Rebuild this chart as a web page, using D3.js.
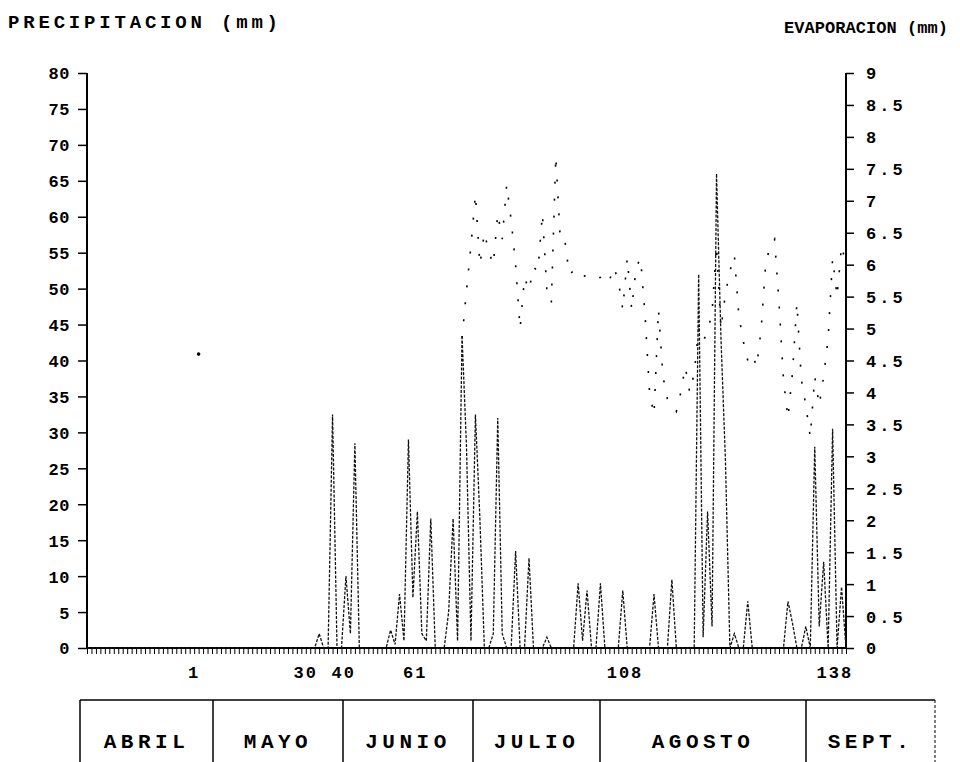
<!DOCTYPE html>
<html>
<head>
<meta charset="utf-8">
<script src="https://cdn.jsdelivr.net/npm/d3@7"></script>
<style>
  html, body { margin: 0; padding: 0; background: #fff; }
  svg { display: block; }
  text { font-family: "Liberation Mono", "DejaVu Sans Mono", monospace; font-weight: bold; fill: #000; }
</style>
</head>
<body>
<svg id="chart" width="960" height="762"></svg>
<script>
// ---------------- DATA ----------------
// daily precipitation (mm), day index 0..170
const precipitation = [
  0,0,0,0,0,0,0,0,0,0, 0,0,0,0,0,0,0,0,0,0,
  0,0,0,0,0,0,0,0,0,0, 0,0,0,0,0,0,0,0,0,0,
  0,0,0,0,0,0,0,0,0,0, 0,0,2,0,0,32.5,0,0,10,2,
  28.5,0,0,0,0,0,0,0,2.5,0.5, 7.5,1,29,7,19,2,1,18,0,0,
  0,5,18,1,43.5,28,1,32.5,18,0, 0,2,32,2,0,0,13.5,0,0,12.5,
  0,0,0,1.5,0,0,0,0,0,0, 9,1,8,0,0,9,0,0,0,0,
  8,0,0,0,0,0,0,7.5,0,0, 0,9.5,0,0,0,0,0,52,1.5,19,
  3,66,43,26,0,2,0,0,6.5,0, 0,0,0,0,0,0,0,6.5,3.5,0,
  0,3,0,28,3,12,0,30.5,0,8.5, 0
];
// daily evaporation (mm), day index 0..170 (null = not legible)
const evaporation = [
  null,null,null,null,null,null,null,null,null,null,
  null,null,null,null,null,null,null,null,null,null,
  null,null,null,null,null,4.6,null,null,null,null,
  null,null,null,null,null,null,null,null,null,null,
  null,null,null,null,null,null,null,null,null,null,
  null,null,null,null,null,null,null,null,null,null,
  null,null,null,null,null,null,null,null,null,null,
  null,null,null,null,null,null,null,null,null,null,
  null,null,null,null,4.85,5.6,6.3,7.1,6.0,6.5,
  6.2,6.0,6.8,6.4,7.25,6.7,6.0,5.0,5.8,5.6,
  5.96,5.9,6.8,5.6,5.4,7.7,6.4,6.4,5.85,5.9,
  5.8,5.8,5.85,5.85,5.8,5.8,5.85,5.75,5.96,5.75,
  5.3,6.1,5.3,5.96,6.1,5.2,4.0,3.65,5.3,4.25,
  3.9,3.8,3.7,4.0,4.4,4.0,4.3,5.0,4.8,4.95,
  5.25,6.3,5.0,5.55,5.9,6.15,5.2,4.8,4.5,4.6,
  4.4,5.0,6.0,6.3,6.4,5.4,4.2,3.6,4.3,5.4,
  4.2,3.8,3.3,4.25,3.8,4.25,4.85,6.1,5.5,6.3,
  6.0
];
// x-axis labels (day number printed under the axis) and their day positions
const xLabelDays = [24, 49, 57.5, 73.5, 120.5, 167.5];
const xLabels    = ["1", "30", "40", "61", "108", "138"];
// left / right axis ticks
const precipTicks = [0,5,10,15,20,25,30,35,40,45,50,55,60,65,70,75,80];
const evapTicks   = [0,0.5,1,1.5,2,2.5,3,3.5,4,4.5,5,5.5,6,6.5,7,7.5,8,8.5,9];
// month table
const months = ["ABRIL", "MAYO", "JUNIO", "JULIO", "AGOSTO", "SEPT."];
const monthWidths = [133, 130, 130, 127, 206, 129];

// ---------------- LAYOUT ----------------
const svg = d3.select("#chart");
const L = 87, R = 846, T = 73, B = 648;
const nDays = precipitation.length - 1;

const x = d3.scaleLinear().domain([0, nDays]).range([L, R]);
const yP = d3.scaleLinear().domain([0, 80]).range([B, T]);
const yE = d3.scaleLinear().domain([0, 9]).range([B, T]);

svg.append("rect").attr("width", 960).attr("height", 762).attr("fill", "#fff");

// titles
svg.append("text").attr("x", 8).attr("y", 28).attr("font-size", 19)
  .attr("textLength", 270).attr("lengthAdjust", "spacing")
  .text("PRECIPITACION (mm)");
svg.append("text").attr("x", 784).attr("y", 33).attr("font-size", 17)
  .attr("textLength", 164).attr("lengthAdjust", "spacing")
  .text("EVAPORACION (mm)");

// left axis
const leftAxis = d3.axisLeft(yP).tickValues(precipTicks).tickSize(9).tickPadding(8)
  .tickFormat(d3.format("d"));
const gl = svg.append("g").attr("transform", `translate(${L},0)`).call(leftAxis);
gl.select(".domain").attr("stroke", "#000").attr("stroke-width", 2).attr("d", `M0,${T}V${B}`);
gl.selectAll(".tick line").attr("stroke", "#000").attr("stroke-width", 1.5);
gl.selectAll(".tick text").attr("font-size", 17).attr("font-family", null)
  .attr("letter-spacing", 0.5).attr("dy", "0.35em");

// right axis
const rightAxis = d3.axisRight(yE).tickValues(evapTicks).tickSize(8).tickPadding(12)
  .tickFormat(d => String(d));
const gr = svg.append("g").attr("transform", `translate(${R},0)`).call(rightAxis);
gr.select(".domain").attr("stroke", "#000").attr("stroke-width", 2).attr("d", `M0,${T}V${B}`);
gr.selectAll(".tick line").attr("stroke", "#000").attr("stroke-width", 1.5);
gr.selectAll(".tick text").attr("font-size", 17).attr("font-family", null)
  .attr("letter-spacing", 3).attr("dy", "0.35em");

// bottom axis: one minor tick per day
const bottomAxis = d3.axisBottom(x).tickValues(d3.range(0, nDays + 1)).tickSize(6).tickFormat("");
const gb = svg.append("g").attr("transform", `translate(0,${B})`).call(bottomAxis);
gb.select(".domain").attr("stroke", "#000").attr("stroke-width", 2).attr("d", `M${L},0H${R}`);
gb.selectAll(".tick line").attr("stroke", "#000").attr("stroke-width", 1);

// bottom labels
svg.append("g").selectAll("text").data(xLabelDays).join("text")
  .attr("x", d => x(d)).attr("y", B + 30)
  .attr("text-anchor", "middle").attr("font-size", 17).attr("letter-spacing", 2)
  .text((d, i) => xLabels[i]);

// evaporation (faint, broken dotted trace)
const evapLine = d3.line().defined(d => d != null)
  .x((d, i) => x(i)).y(d => yE(d));
svg.append("path").datum(evaporation)
  .attr("fill", "none").attr("stroke", "#000").attr("stroke-width", 1.6)
  .attr("stroke-dasharray", "2,15").attr("d", evapLine);
// isolated evaporation readings
svg.append("g").selectAll("circle")
  .data(evaporation.map((v, i) => ({v, i}))
    .filter(o => o.v != null && evaporation[o.i - 1] == null && evaporation[o.i + 1] == null))
  .join("circle").attr("cx", o => x(o.i)).attr("cy", o => yE(o.v)).attr("r", 1.8).attr("fill", "#000");

// precipitation (spiky line)
const precipLine = d3.line().x((d, i) => x(i)).y(d => yP(d));
svg.append("path").datum(precipitation)
  .attr("fill", "none").attr("stroke", "#111").attr("stroke-width", 1.3)
  .attr("stroke-dasharray", "3,1.5").attr("d", precipLine);

// month table
const tTop = 700, tBot = 775;
const edges = [80];
monthWidths.forEach(w => edges.push(edges[edges.length - 1] + w));
const tbl = svg.append("g");
tbl.append("line").attr("x1", edges[0]).attr("x2", edges[edges.length - 1])
  .attr("y1", tTop).attr("y2", tTop).attr("stroke", "#000").attr("stroke-width", 1.5);
tbl.selectAll("line.v").data(edges).join("line").attr("class", "v")
  .attr("x1", d => d).attr("x2", d => d).attr("y1", tTop).attr("y2", tBot)
  .attr("stroke", "#000").attr("stroke-width", (d, i) => i === edges.length - 1 ? 1 : 1.5)
  .attr("stroke-dasharray", (d, i) => i === edges.length - 1 ? "3,2" : null);
tbl.selectAll("text").data(months).join("text")
  .attr("x", (d, i) => (edges[i] + edges[i + 1]) / 2).attr("y", 748)
  .attr("text-anchor", "middle").attr("font-size", 21).attr("letter-spacing", 4.5)
  .text(d => d);
</script>
</body>
</html>
